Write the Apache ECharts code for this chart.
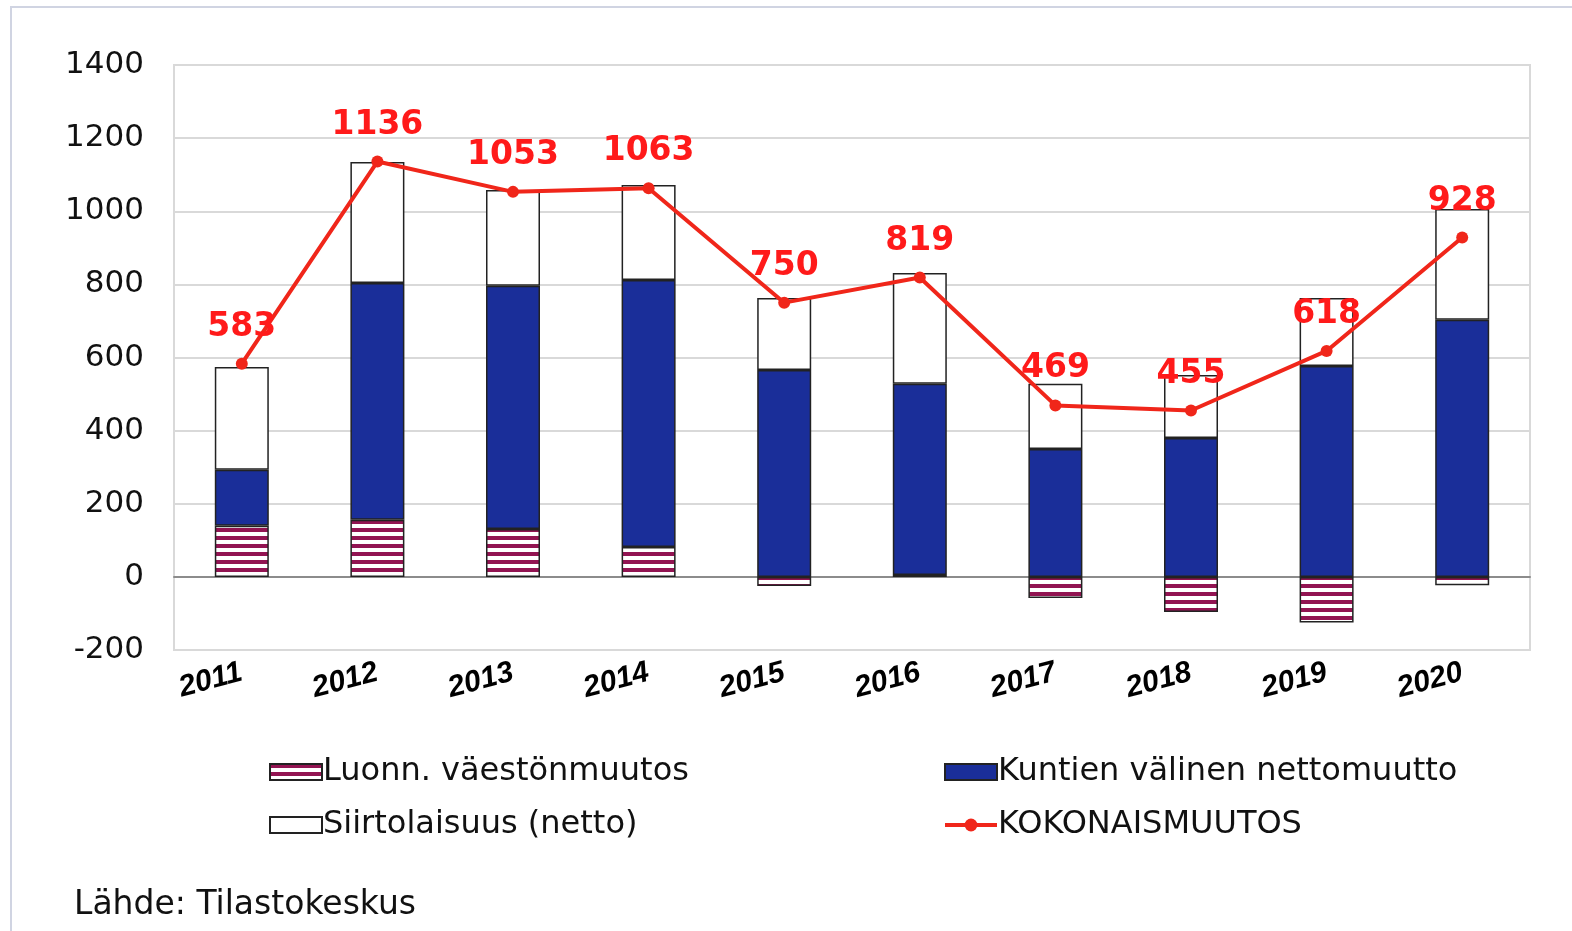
<!DOCTYPE html>
<html>
<head>
<meta charset="utf-8">
<script src="https://cdn.jsdelivr.net/npm/echarts@6/dist/echarts.min.js"></script>
<style>
  html, body { margin: 0; padding: 0; background: #fff; }
  #main { width: 1572px; height: 931px; }
</style>
</head>
<body>
<div id="main"></div>
<script>
var years = ['2011', '2012', '2013', '2014', '2015', '2016', '2017', '2018', '2019', '2020'];
var luonnollinen = [140, 156, 131, 82, -25, 5, -58, -96, -125, -23];
var kuntienValinen = [153, 648, 665, 730, 566, 523, 350, 380, 577, 703];
var siirtolaisuus = [281, 331, 262, 260, 197, 303, 178, 172, 186, 303];
var kokonais = [583, 1136, 1053, 1063, 750, 819, 469, 455, 618, 928];
var yTicks = { min: -200, max: 1400, step: 200 };

// raidallinen kuvio luonnolliselle väestönmuutokselle
var stripe = document.createElement('canvas');
stripe.width = 8;
stripe.height = 8;
var ctx = stripe.getContext('2d');
ctx.fillStyle = '#ffffff';
ctx.fillRect(0, 0, 8, 8);
ctx.fillStyle = '#921452';
ctx.fillRect(0, 0, 8, 4);

var myChart = echarts.init(document.getElementById('main'));

var font = 'DejaVu Sans, Verdana, sans-serif';

var option = {
    animation: false,
    backgroundColor: '#fff',
    graphic: [
        {
            type: 'rect',
            shape: { x: 11, y: 7, width: 1600, height: 1000 },
            style: { fill: 'none', stroke: '#d0d4e2', lineWidth: 2 },
            z: -1
        },
        {
            type: 'text',
            left: 74,
            top: 889,
            style: { text: 'Lähde: Tilastokeskus', font: '33px ' + font, fill: '#111' }
        }
    ],
    grid: {
        left: 174, right: 42, top: 65, bottom: 281,
        show: true, borderColor: '#d9d9d9', borderWidth: 2
    },
    legend: [
        {
            orient: 'vertical',
            left: 264, top: 751,
            icon: 'rect',
            itemWidth: 52, itemHeight: 16, itemGap: 21,
            textStyle: { fontSize: 32, fontFamily: font, color: '#111', padding: [0, 0, 0, -4] },
            data: ['Luonn. väestönmuutos', 'Siirtolaisuus (netto)']
        },
        {
            orient: 'vertical',
            left: 938, top: 751,
            itemWidth: 52, itemHeight: 16, itemGap: 21,
            lineStyle: { width: 4 },
            textStyle: { fontSize: 32, fontFamily: font, color: '#111', padding: [0, 0, 0, -4] },
            data: [{ name: 'Kuntien välinen nettomuutto', icon: 'rect' }, 'KOKONAISMUUTOS']
        }
    ],
    xAxis: {
        type: 'category',
        data: years,
        axisTick: { show: false },
        axisLine: { onZero: true, lineStyle: { color: '#8c8c8c', width: 2 } },
        axisLabel: {
            rotate: 15, margin: 22, interval: 0,
            fontSize: 30, fontWeight: 'bold', fontStyle: 'italic',
            fontFamily: 'Liberation Sans, Arial, sans-serif', color: '#000'
        }
    },
    yAxis: {
        type: 'value',
        min: yTicks.min, max: yTicks.max, interval: yTicks.step,
        axisLine: { show: false },
        axisTick: { show: false },
        splitLine: { lineStyle: { color: '#d9d9d9', width: 2 } },
        axisLabel: {
            fontSize: 31, fontFamily: font, color: '#111', margin: 30,
            formatter: function (v) { return String(v); }
        }
    },
    series: [
        {
            name: 'Luonn. väestönmuutos',
            type: 'bar',
            stack: 'a',
            barWidth: 54,
            data: luonnollinen,
            itemStyle: { color: { image: stripe, repeat: 'repeat' }, borderColor: '#222', borderWidth: 1.5 }
        },
        {
            name: 'Kuntien välinen nettomuutto',
            type: 'bar',
            stack: 'a',
            barWidth: 54,
            data: kuntienValinen,
            itemStyle: { color: '#1a2e99', borderColor: '#222', borderWidth: 1.5 }
        },
        {
            name: 'Siirtolaisuus (netto)',
            type: 'bar',
            stack: 'a',
            barWidth: 54,
            data: siirtolaisuus,
            itemStyle: { color: '#ffffff', borderColor: '#222', borderWidth: 1.5 }
        },
        {
            name: 'KOKONAISMUUTOS',
            type: 'line',
            data: kokonais,
            symbol: 'circle',
            symbolSize: 12,
            z: 5,
            lineStyle: { color: '#f0261a', width: 4 },
            itemStyle: { color: '#f0261a' },
            label: {
                show: true, position: 'top', distance: 14,
                fontSize: 33, fontWeight: 'bold', fontFamily: font, color: '#ff1a1a'
            }
        }
    ]
};

myChart.setOption(option);
</script>
</body>
</html>
